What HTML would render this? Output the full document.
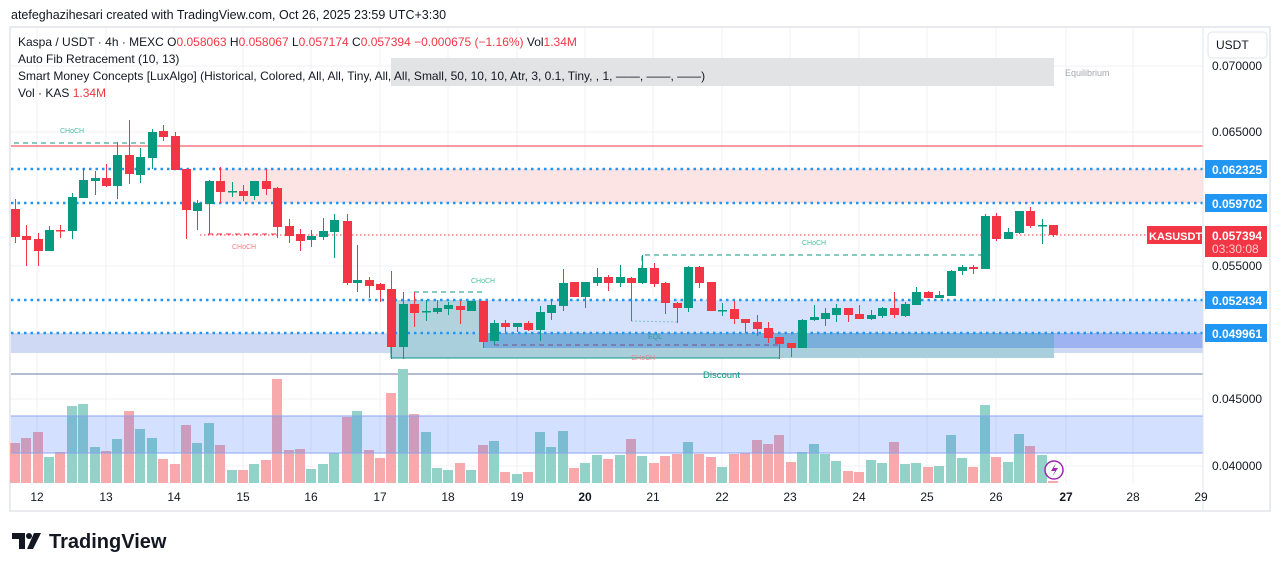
<!DOCTYPE html>
<html><head><meta charset="utf-8">
<style>
html,body{margin:0;padding:0;background:#fff;}
body{width:1281px;height:571px;position:relative;overflow:hidden;font-family:"Liberation Sans",sans-serif;}
svg{position:absolute;left:0;top:0;}
</style></head>
<body>
<svg id="s" width="1281" height="571" xmlns="http://www.w3.org/2000/svg" font-family="Liberation Sans, sans-serif">
<rect x="0" y="0" width="1281" height="571" fill="#fff"/>
<text x="11" y="19" font-size="12.5" fill="#131722">atefeghazihesari created with TradingView.com, Oct 26, 2025 23:59 UTC+3:30</text>
<rect x="10" y="27" width="1260" height="484" fill="#fff" stroke="#e0e3eb" stroke-width="1.5"/>
<g stroke="#f0f1f4" stroke-width="1">
<line x1="37" y1="28" x2="37" y2="484"/><line x1="106" y1="28" x2="106" y2="484"/><line x1="174" y1="28" x2="174" y2="484"/><line x1="243" y1="28" x2="243" y2="484"/><line x1="311" y1="28" x2="311" y2="484"/><line x1="380" y1="28" x2="380" y2="484"/><line x1="448" y1="28" x2="448" y2="484"/><line x1="517" y1="28" x2="517" y2="484"/><line x1="585" y1="28" x2="585" y2="484"/><line x1="653" y1="28" x2="653" y2="484"/><line x1="722" y1="28" x2="722" y2="484"/><line x1="790" y1="28" x2="790" y2="484"/><line x1="859" y1="28" x2="859" y2="484"/><line x1="927" y1="28" x2="927" y2="484"/><line x1="996" y1="28" x2="996" y2="484"/><line x1="1066" y1="28" x2="1066" y2="484"/><line x1="1133" y1="28" x2="1133" y2="484"/>
<line x1="11" y1="66" x2="1203" y2="66"/><line x1="11" y1="132" x2="1203" y2="132"/><line x1="11" y1="266" x2="1203" y2="266"/><line x1="11" y1="399" x2="1203" y2="399"/><line x1="11" y1="466" x2="1203" y2="466"/>
</g>
<rect x="391" y="58" width="663" height="28" fill="#e2e3e5"/>
<text x="1065" y="76" font-size="9" fill="#a3a6af">Equilibrium</text>
<line x1="11" y1="146" x2="1203" y2="146" stroke="#f23645" stroke-width="1"/>
<rect x="220" y="169" width="983" height="34" fill="#fce3e4"/>
<rect x="400" y="300" width="803" height="33" fill="#d6e2fc"/>
<rect x="11" y="333" width="1192" height="20" fill="#d0d9f4"/>
<rect x="391" y="300" width="92" height="58" fill="#a9d0d6" opacity="0.8"/>
<rect x="391" y="333" width="663" height="25" fill="#a8cfdb"/>
<rect x="483" y="333" width="571" height="15" fill="#7aaedb"/>
<rect x="1054" y="333" width="149" height="15" fill="#9db3f2"/>
<line x1="391" y1="358" x2="780" y2="358" stroke="#089981" stroke-width="1"/>
<line x1="391" y1="300" x2="391" y2="358" stroke="#089981" stroke-width="1"/>
<g stroke="#2196f3" stroke-width="2.5" stroke-dasharray="2.5,4">
<line x1="11" y1="169" x2="1203" y2="169"/><line x1="11" y1="203" x2="1203" y2="203"/><line x1="11" y1="300" x2="1203" y2="300"/><line x1="11" y1="333" x2="1203" y2="333"/>
</g>
<line x1="11" y1="374" x2="1203" y2="374" stroke="#8b93b5" stroke-width="1.2"/>
<text x="703" y="378" font-size="9.5" fill="#089981">Discount</text>
<g stroke="#089981" stroke-width="1" stroke-dasharray="5,4" fill="none">
<line x1="14" y1="143" x2="150" y2="143"/><line x1="414" y1="292" x2="483" y2="292"/><path d="M642 270 V255 H985"/>
</g>
<line x1="208" y1="234" x2="277" y2="234" stroke="#f23645" stroke-dasharray="5,4"/>
<line x1="494" y1="345" x2="780" y2="345" stroke="#7b4f85" stroke-dasharray="5,4"/>
<line x1="631" y1="321" x2="677" y2="322" stroke="#7ec4c7" stroke-dasharray="2,2"/>
<text x="60" y="133" font-size="7" fill="#4bbf9c">CHoCH</text>
<text x="232" y="249" font-size="7" fill="#f77c86">CHoCH</text>
<text x="471" y="283" font-size="7" fill="#4bbf9c">CHoCH</text>
<text x="802" y="245" font-size="7" fill="#4bbf9c">CHoCH</text>
<text x="631" y="360" font-size="7" fill="#f77c86">CHoCH</text>
<text x="648" y="339" font-size="7" fill="#3a9a96">EQL</text>
<line x1="200" y1="235" x2="1147" y2="235" stroke="#f23645" stroke-width="1" stroke-dasharray="1.5,2.5"/>
<g id="vol"></g>
<rect x="11" y="416" width="1192" height="37" fill="#2962ff" opacity="0.2"/>
<line x1="11" y1="416" x2="1203" y2="416" stroke="#8ba3ec"/>
<line x1="11" y1="453" x2="1203" y2="453" stroke="#8ba3ec"/>
<g id="cdl"></g>
<g font-size="12" fill="#131722">
<text x="18" y="46">Kaspa / USDT · 4h · MEXC  O<tspan fill="#f23645">0.058063</tspan>  H<tspan fill="#f23645">0.058067</tspan>  L<tspan fill="#f23645">0.057174</tspan>  C<tspan fill="#f23645">0.057394</tspan>  <tspan fill="#f23645">−0.000675 (−1.16%)</tspan>  Vol<tspan fill="#f23645">1.34M</tspan></text>
<text x="18" y="63">Auto Fib Retracement (10, 13)</text>
<text x="18" y="80">Smart Money Concepts [LuxAlgo] (Historical, Colored, All, All, Tiny, All, All, Small, 50, 10, 10, Atr, 3, 0.1, Tiny, , 1, ——, ——, ——)</text>
<text x="18" y="97">Vol · KAS  <tspan fill="#f23645">1.34M</tspan></text>
</g>
<line x1="1203" y1="28" x2="1203" y2="510" stroke="#e0e3eb"/>
<rect x="1208" y="32" width="59" height="26" rx="4" fill="#fff" stroke="#e0e3eb"/>
<text x="1216" y="49" font-size="12" fill="#131722">USDT</text>
<g font-size="12" fill="#131722">
<text x="1212" y="70">0.070000</text><text x="1212" y="136">0.065000</text><text x="1212" y="270">0.055000</text><text x="1212" y="403">0.045000</text><text x="1212" y="470">0.040000</text>
</g>
<g font-size="12" fill="#fff" font-weight="bold">
<rect x="1205" y="160" width="62" height="18" fill="#2196f3"/><text x="1212" y="174">0.062325</text>
<rect x="1205" y="194" width="62" height="18" fill="#2196f3"/><text x="1212" y="208">0.059702</text>
<rect x="1205" y="291" width="62" height="18" fill="#2196f3"/><text x="1212" y="305">0.052434</text>
<rect x="1205" y="324" width="62" height="18" fill="#2196f3"/><text x="1212" y="338">0.049961</text>
<rect x="1147" y="226" width="55" height="18" fill="#f23645"/><text x="1149" y="240" font-size="11">KASUSDT</text>
<rect x="1205" y="226" width="62" height="31" fill="#f23645"/><text x="1212" y="240">0.057394</text><text x="1212" y="253" fill="#fcc" font-weight="normal">03:30:08</text>
</g>
<g font-size="12" fill="#131722" text-anchor="middle">
<text x="37" y="501">12</text><text x="106" y="501">13</text><text x="174" y="501">14</text><text x="243" y="501">15</text><text x="311" y="501">16</text><text x="380" y="501">17</text><text x="448" y="501">18</text><text x="517" y="501">19</text><text x="585" y="501" font-weight="bold">20</text><text x="653" y="501">21</text><text x="722" y="501">22</text><text x="790" y="501">23</text><text x="859" y="501">24</text><text x="927" y="501">25</text><text x="996" y="501">26</text><text x="1066" y="501" font-weight="bold">27</text><text x="1133" y="501">28</text><text x="1201" y="501">29</text>
</g>
<circle cx="1054" cy="470" r="9" fill="#fff" stroke="#9c27b0" stroke-width="1.5"/>
<path d="M1056 463 L1051 471 H1055 L1052 477 L1058 468 H1054 Z" fill="#9c27b0"/>
<path d="M12 533 H25 V549 H19 V539 H12 Z" fill="#131722"/>
<circle cx="29" cy="536" r="3" fill="#131722"/>
<path d="M34 533 H41 L33 549 H27 Z" fill="#131722"/>
<text x="49" y="548" font-size="20" font-weight="bold" fill="#131722">TradingView</text>
</svg>
<script>
var C=[[15,209,237,199,243],[26,236,240,225,266],[38,239,251,233,266],[49,251,230,226,251],[60,230,230,225,238],[72,231,197,193,239],[83,198,180,168,198],[95,181,178,171,195],[106,178,186,164,187],[117,186,155,142,199],[129,155,174,120,184],[140,175,157,148,183],[152,158,132,129,169],[163,131,137,125,141],[175,136,170,132,170],[186,169,210,169,239],[197,211,203,200,230],[209,204,181,180,234],[220,181,192,167,203],[232,191,191,182,197],[243,191,196,185,201],[254,196,181,181,200],[266,181,189,169,195],[277,188,227,187,238],[289,226,236,219,243],[300,234,241,229,251],[311,240,236,230,247],[323,237,231,218,240],[334,232,220,214,258],[347,221,283,214,285],[357,283,280,245,292],[369,280,286,277,298],[380,284,290,283,302],[391,289,347,271,359],[403,347,304,292,359],[414,304,313,292,327],
[426,311,311,300,321],[437,312,308,300,314],[448,309,305,302,315],[460,306,310,301,324],[471,311,301,301,311],[483,301,342,301,348],[494,341,323,320,345],[505,323,327,320,332],[517,327,323,323,332],[528,323,330,321,331],[540,330,312,306,341],[551,313,305,299,320],[563,306,283,269,311],[574,282,297,282,297],[585,297,282,282,308],[597,283,277,268,286],[608,277,283,275,291],[620,283,277,265,287],[631,278,283,277,321],[642,283,268,255,284],[654,268,284,263,287],[665,283,303,282,314],[677,303,308,302,323],[688,308,267,266,312],[699,267,283,266,288],[711,282,311,282,311],[722,310,310,303,316],[734,309,319,301,324],[745,319,323,319,333],[757,322,329,315,336],[768,328,338,322,343],[779,337,344,337,359],[791,343,348,343,357],[802,348,320,319,348],[814,320,317,305,321],
[825,319,313,308,326],[836,315,308,304,322],[848,308,315,308,322],[859,314,319,305,319],[871,319,315,310,320],[882,316,308,307,318],[894,308,315,292,318],[905,316,304,302,317],[916,305,292,287,305],[928,292,298,291,298],[939,298,295,291,298],[951,296,271,270,296],[962,271,267,265,275],[973,267,269,265,274],[985,269,216,214,269],[996,216,239,213,241],[1008,239,232,228,239],[1019,233,211,211,234],[1030,211,226,207,228],[1042,225,225,219,244],[1053,225,235,225,237]];
var V=[443,438,432,457,452,406,404,447,451,439,411,429,438,459,464,425,443,423,445,470,470,464,460,379,450,449,469,464,453,417,411,450,458,393,369,414,432,468,470,463,470,445,441,472,474,472,432,447,431,468,463,455,459,455,439,456,463,456,454,442,454,457,467,454,453,440,444,435,462,452,444,454,461,471,472,460,463,442,464,463,467,466,435,458,467,405,457,462,434,446,455,481];
var ns="http://www.w3.org/2000/svg",g=document.getElementById("cdl"),gv=document.getElementById("vol");
function el(p,t,a){var e=document.createElementNS(ns,t);for(var k in a)e.setAttribute(k,a[k]);p.appendChild(e);return e;}
for(var i=0;i<C.length;i++){var c=C[i],x=c[0],up=c[2]<c[1]||(c[2]==c[1]&&i%2==0);
var col=up?"#089981":"#f23645";
if(i==19||i==62)col="#089981";if(i==4)col="#f23645";
var vc=(col=="#089981")?"#92d2c8":"#f7a9ab";
el(gv,"rect",{x:x-5,y:V[i],width:10,height:483-V[i],fill:vc});
el(g,"line",{x1:x+0.5,y1:c[3],x2:x+0.5,y2:c[4],stroke:col,"stroke-width":1});
var t=Math.min(c[1],c[2]),h=Math.max(1.5,Math.abs(c[1]-c[2]));
el(g,"rect",{x:x-4,y:t,width:9,height:h,fill:col});}
</script>
</body></html>
